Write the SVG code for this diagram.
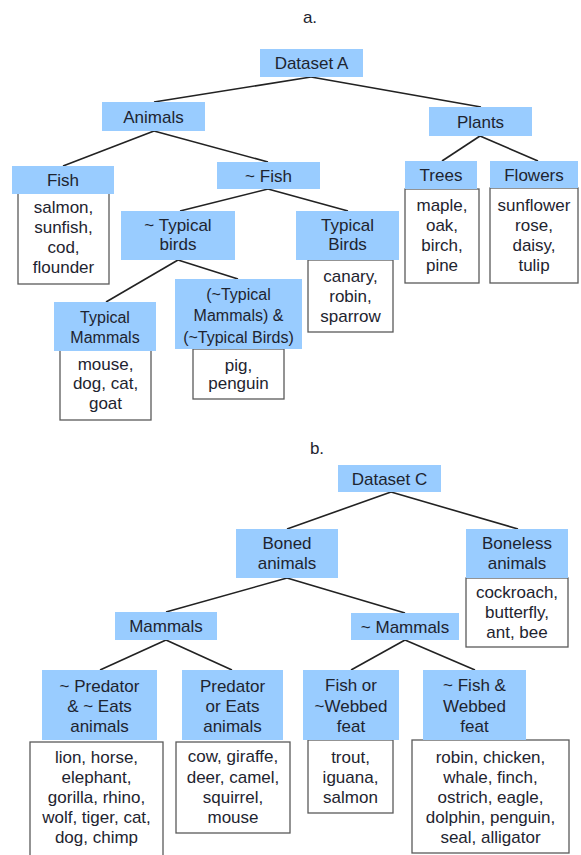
<svg xmlns="http://www.w3.org/2000/svg" width="581" height="855" viewBox="0 0 581 855">
<style>
.bg{fill:#ffffff}
.h{fill:#99ccff}
.c{fill:#ffffff;stroke:#5a5a5a;stroke-width:1.3}
text{font-family:"Liberation Sans",Arial,sans-serif;font-size:17px;fill:#1e2430;text-anchor:middle}
.s{font-size:16px}
.conn line{stroke:#222222;stroke-width:1.6}
</style>
<rect class="bg" x="0" y="0" width="581" height="855"/>
<text x="310" y="23">a.</text>
<text x="317" y="454">b.</text>
<g class="conn" id="connectors">
<line x1="311" y1="77" x2="154" y2="102"/>
<line x1="311" y1="77" x2="481" y2="107"/>
<line x1="154" y1="131" x2="63" y2="166"/>
<line x1="154" y1="131" x2="268" y2="162"/>
<line x1="480" y1="136" x2="442" y2="161"/>
<line x1="480" y1="136" x2="538" y2="161"/>
<line x1="268" y1="189" x2="180" y2="211"/>
<line x1="268" y1="189" x2="348" y2="211"/>
<line x1="178" y1="260" x2="106" y2="302"/>
<line x1="178" y1="260" x2="238" y2="279"/>
<line x1="391" y1="492" x2="287" y2="529"/>
<line x1="391" y1="492" x2="518" y2="529"/>
<line x1="287" y1="578" x2="166" y2="612"/>
<line x1="287" y1="578" x2="405" y2="613"/>
<line x1="166" y1="640" x2="100" y2="670"/>
<line x1="166" y1="640" x2="232" y2="670"/>
<line x1="405" y1="640" x2="351" y2="670"/>
<line x1="405" y1="640" x2="475" y2="670"/>
</g>
<g id="datasetA">
<rect class="h" x="260" y="49" width="103" height="28"/>
<text x="311.5" y="69">Dataset A</text>
</g>
<g id="animals">
<rect class="h" x="102" y="102" width="103" height="29"/>
<text x="153.5" y="122.5">Animals</text>
</g>
<g id="plants">
<rect class="h" x="429" y="107" width="103" height="29"/>
<text x="480.5" y="127.5">Plants</text>
</g>
<g id="fish">
<rect class="c" x="18" y="193" width="91" height="91"/>
<rect class="h" x="12" y="166" width="102" height="28"/>
<text x="63" y="186">Fish</text>
<text x="63.5" y="213">salmon,</text>
<text x="63.5" y="233">sunfish,</text>
<text x="63.5" y="253">cod,</text>
<text x="63.5" y="273">flounder</text>
</g>
<g id="notfish">
<rect class="h" x="217" y="162" width="103" height="27"/>
<text x="268.5" y="181.5">~ Fish</text>
</g>
<g id="trees">
<rect class="c" x="405" y="189" width="74" height="94"/>
<rect class="h" x="405" y="161" width="72" height="28"/>
<text x="441" y="181">Trees</text>
<text x="442" y="211">maple,</text>
<text x="442" y="231">oak,</text>
<text x="442" y="251">birch,</text>
<text x="442" y="271">pine</text>
</g>
<g id="flowers">
<rect class="c" x="490" y="188" width="88" height="95"/>
<rect class="h" x="490" y="161" width="88" height="27"/>
<text x="534" y="180.5">Flowers</text>
<text x="534" y="211">sunflower</text>
<text x="534" y="231">rose,</text>
<text x="534" y="251">daisy,</text>
<text x="534" y="271">tulip</text>
</g>
<g id="nottypicalbirds">
<rect class="h" x="121" y="211" width="114" height="49"/>
<text x="178" y="231">~ Typical</text>
<text x="178" y="250">birds</text>
</g>
<g id="typicalbirds">
<rect class="c" x="308" y="260" width="85" height="72"/>
<rect class="h" x="296" y="211" width="103" height="49"/>
<text x="347.5" y="231">Typical</text>
<text x="347.5" y="250">Birds</text>
<text x="350.5" y="282">canary,</text>
<text x="350.5" y="302">robin,</text>
<text x="350.5" y="322">sparrow</text>
</g>
<g id="typicalmammals">
<rect class="c" x="60" y="350" width="91" height="70"/>
<rect class="h" x="54" y="302" width="102" height="49"/>
<text class="s" x="105" y="323">Typical</text>
<text class="s" x="105" y="343">Mammals</text>
<text x="105.5" y="370">mouse,</text>
<text x="105.5" y="389">dog, cat,</text>
<text x="105.5" y="409">goat</text>
</g>
<g id="neither">
<rect class="c" x="193" y="349" width="91" height="50"/>
<rect class="h" x="175" y="279" width="127" height="70"/>
<text class="s" x="238.5" y="300">(~Typical</text>
<text class="s" x="238.5" y="321">Mammals) &amp;</text>
<text class="s" x="238.5" y="343">(~Typical Birds)</text>
<text x="238.5" y="371">pig,</text>
<text x="238.5" y="389">penguin</text>
</g>
<g id="datasetC">
<rect class="h" x="338" y="465" width="103" height="27"/>
<text x="389.5" y="484.5">Dataset C</text>
</g>
<g id="boned">
<rect class="h" x="236" y="529" width="102" height="49"/>
<text x="287" y="549">Boned</text>
<text x="287" y="569">animals</text>
</g>
<g id="boneless">
<rect class="c" x="466" y="578" width="102" height="69"/>
<rect class="h" x="466" y="529" width="102" height="49"/>
<text x="517" y="549">Boneless</text>
<text x="517" y="569">animals</text>
<text x="517" y="598">cockroach,</text>
<text x="517" y="618">butterfly,</text>
<text x="517" y="638">ant, bee</text>
</g>
<g id="mammals">
<rect class="h" x="115" y="612" width="102" height="28"/>
<text x="166" y="632">Mammals</text>
</g>
<g id="notmammals">
<rect class="h" x="351" y="613" width="108" height="27"/>
<text x="405" y="632.5">~ Mammals</text>
</g>
<g id="notpredator">
<rect class="c" x="30" y="742" width="133" height="125"/>
<rect class="h" x="42" y="670" width="115" height="70"/>
<text x="99.5" y="692">~ Predator</text>
<text x="99.5" y="712">&amp; ~ Eats</text>
<text x="99.5" y="732">animals</text>
<text x="96.5" y="763">lion, horse,</text>
<text x="96.5" y="783">elephant,</text>
<text x="96.5" y="803">gorilla, rhino,</text>
<text x="96.5" y="823">wolf, tiger, cat,</text>
<text x="96.5" y="843">dog, chimp</text>
</g>
<g id="predator">
<rect class="c" x="176" y="742" width="114" height="91"/>
<rect class="h" x="182" y="670" width="101" height="70"/>
<text x="232.5" y="692">Predator</text>
<text x="232.5" y="712">or Eats</text>
<text x="232.5" y="732">animals</text>
<text x="233" y="762">cow, giraffe,</text>
<text x="233" y="783">deer, camel,</text>
<text x="233" y="803">squirrel,</text>
<text x="233" y="823">mouse</text>
</g>
<g id="fishorwebbed">
<rect class="c" x="308" y="740" width="85" height="73"/>
<rect class="h" x="303" y="670" width="96" height="70"/>
<text x="351" y="691">Fish or</text>
<text x="351" y="712">~Webbed</text>
<text x="351" y="732">feat</text>
<text x="350.5" y="763">trout,</text>
<text x="350.5" y="783">iguana,</text>
<text x="350.5" y="803">salmon</text>
</g>
<g id="notfishwebbed">
<rect class="c" x="412" y="740" width="157" height="113"/>
<rect class="h" x="423" y="670" width="103" height="70"/>
<text x="474.5" y="691">~ Fish &amp;</text>
<text x="474.5" y="712">Webbed</text>
<text x="474.5" y="732">feat</text>
<text x="490.5" y="763">robin, chicken,</text>
<text x="490.5" y="783">whale, finch,</text>
<text x="490.5" y="803">ostrich, eagle,</text>
<text x="490.5" y="823">dolphin, penguin,</text>
<text x="490.5" y="843">seal, alligator</text>
</g>
</svg>
